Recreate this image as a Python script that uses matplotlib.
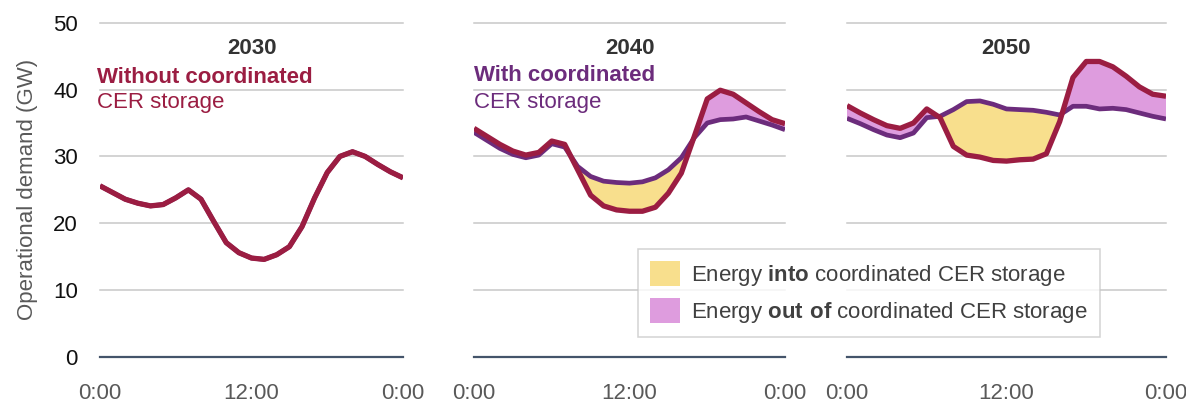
import matplotlib.pyplot as plt
import numpy as np
from matplotlib.patches import Patch

plt.rcParams['font.family'] = ['Liberation Sans', 'DejaVu Sans']
plt.rcParams['mathtext.fontset'] = 'custom'
plt.rcParams['mathtext.rm'] = 'Liberation Sans'
plt.rcParams['mathtext.bf'] = 'Liberation Sans:bold'

# hourly operational demand (GW), 0:00 to 0:00 next day
hours = list(range(25))
years = ["2030", "2040", "2050"]

without_2030 = [25.6, 24.6, 23.6, 23.0, 22.6, 22.8, 23.8, 25.0, 23.6, 20.3, 17.1, 15.6, 14.8,
                14.6, 15.3, 16.5, 19.5, 23.8, 27.6, 30.0, 30.7, 30.0, 28.8, 27.7, 26.8]
with_2030 = [25.6, 24.6, 23.6, 23.0, 22.6, 22.8, 23.8, 25.0, 23.6, 20.3, 17.1, 15.6, 14.8,
             14.6, 15.3, 16.5, 19.5, 23.8, 27.6, 30.0, 30.7, 30.0, 28.8, 27.7, 26.8]

without_2040 = [34.2, 33.0, 31.8, 30.8, 30.2, 30.6, 32.3, 31.8, 28.0, 24.2, 22.6, 22.0, 21.8,
                21.8, 22.4, 24.5, 27.5, 33.0, 38.6, 39.9, 39.3, 38.0, 36.7, 35.5, 34.9]
with_2040 = [33.6, 32.4, 31.2, 30.3, 29.8, 30.2, 31.9, 31.4, 28.5, 27.0, 26.3, 26.1, 26.0,
             26.2, 26.8, 28.0, 29.8, 32.8, 35.0, 35.5, 35.6, 35.9, 35.3, 34.7, 34.0]

without_2050 = [37.6, 36.5, 35.5, 34.6, 34.2, 35.0, 37.1, 35.8, 31.5, 30.2, 29.9, 29.4, 29.3,
                29.5, 29.6, 30.4, 35.2, 41.8, 44.2, 44.2, 43.4, 42.0, 40.4, 39.3, 39.0]
with_2050 = [35.7, 34.9, 34.0, 33.2, 32.8, 33.5, 35.8, 36.0, 37.0, 38.2, 38.3, 37.8, 37.1,
             37.0, 36.9, 36.6, 36.2, 37.5, 37.5, 37.1, 37.2, 37.0, 36.5, 36.0, 35.6]

without_all = [without_2030, without_2040, without_2050]
with_all = [with_2030, with_2040, with_2050]

red = '#9B1D42'
purple = '#6C2C7C'
yellow = '#F8DF8D'
pink = '#DE9CDE'
grid_col = '#C8C8C8'
text_col = '#404040'
fs = 16

fig = plt.figure(figsize=(11.86, 4.03), dpi=100)
lefts = [100, 474, 847]
widths = [303, 311, 319]
bottom = 1 - 357 / 403
height = 334.3 / 403

for i in range(3):
    ax = fig.add_axes([lefts[i] / 1186, bottom, widths[i] / 1186, height])
    x = np.array(hours)
    wo = np.array(without_all[i])
    wi = np.array(with_all[i])

    for yv in [10, 20, 30, 40, 50]:
        ax.axhline(yv, color=grid_col, lw=1.1, zorder=0, clip_on=False)
    ax.axhline(0, color='#44546A', lw=1.6, zorder=1, clip_on=False)

    if i > 0:
        ax.fill_between(x, wo, wi, where=wi >= wo, interpolate=True, color=yellow, lw=0, zorder=2)
        ax.fill_between(x, wo, wi, where=wo >= wi, interpolate=True, color=pink, lw=0, zorder=2)
    ax.plot(x, wi, color=purple, lw=3.4, solid_capstyle='butt', zorder=3)
    ax.plot(x, wo, color=red, lw=3.8, solid_capstyle='butt', zorder=4)

    ax.set_xlim(0, 24)
    ax.set_ylim(0, 50)
    ax.set_xticks([0, 12, 24])
    ax.set_xticklabels(['0:00', '12:00', '0:00'])
    ax.set_yticks([0, 10, 20, 30, 40, 50])
    ax.tick_params(length=0, labelsize=fs)
    ax.tick_params(axis='x', pad=19, labelcolor='#595959')
    ax.tick_params(axis='y', pad=16, labelcolor='#111111')
    if i > 0:
        ax.set_yticklabels([])
    for s in ax.spines.values():
        s.set_visible(False)

    ax.text(0.5, 0.924, years[i], transform=ax.transAxes, ha='center', va='center',
            fontsize=fs, fontweight='bold', color='#333333')

    if i == 0:
        ax.set_ylabel('Operational demand (GW)', fontsize=fs, color='#595959', labelpad=11)
        ax.text(-0.01, 0.8375, 'Without coordinated', transform=ax.transAxes, va='center',
                fontsize=fs, fontweight='bold', color=red)
        ax.text(-0.01, 0.76, 'CER storage', transform=ax.transAxes, va='center',
                fontsize=fs, color=red)
    if i == 1:
        ax.text(0.0, 0.8435, 'With coordinated', transform=ax.transAxes, va='center',
                fontsize=fs, fontweight='bold', color=purple)
        ax.text(0.0, 0.76, 'CER storage', transform=ax.transAxes, va='center',
                fontsize=fs, color=purple)

handles = [Patch(facecolor=yellow, edgecolor='none'), Patch(facecolor=pink, edgecolor='none')]
labels = [r'Energy $\mathbf{into}$ coordinated CER storage',
          r'Energy $\mathbf{out\ of}$ coordinated CER storage']
leg = fig.legend(handles, labels, loc='lower left', bbox_to_anchor=(638 / 1186, 1 - 337 / 403),
                 borderaxespad=0, fontsize=fs, frameon=True, fancybox=False,
                 handlelength=1.35, handleheight=1.35, handletextpad=0.5,
                 labelspacing=0.45, borderpad=0.55, labelcolor=text_col)
leg.get_frame().set_edgecolor(grid_col)
leg.get_frame().set_linewidth(1.1)

fig.savefig('out.png', dpi=100)
